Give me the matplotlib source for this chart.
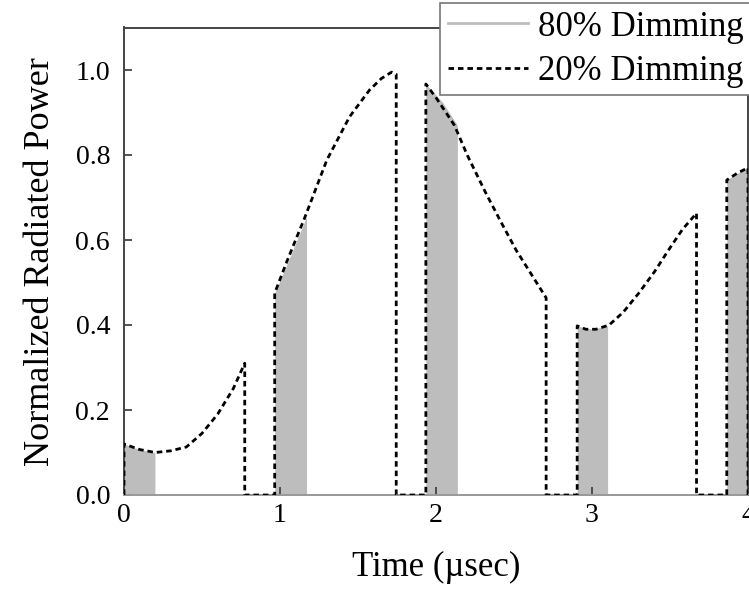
import matplotlib
matplotlib.use("Agg")
import matplotlib.pyplot as plt
from matplotlib.lines import Line2D

plt.rcParams['font.family'] = ['Liberation Serif', 'DejaVu Serif']

# 20% dimming: envelope of each on-period (time in usec, normalized power)
seg_t = [
    [0.0, 0.1, 0.2, 0.3, 0.4, 0.5, 0.6, 0.7, 0.774],
    [0.966, 1.05, 1.158, 1.30, 1.446, 1.574, 1.65, 1.715, 1.745],
    [1.935, 2.0, 2.118, 2.2, 2.32, 2.42, 2.514, 2.61, 2.706],
    [2.905, 2.96, 3.026, 3.11, 3.2, 3.30, 3.40, 3.49, 3.58, 3.67],
    [3.864, 3.93, 4.0],
]
seg_p = [
    [0.12, 0.107, 0.10, 0.104, 0.113, 0.145, 0.19, 0.25, 0.31],
    [0.475, 0.555, 0.652, 0.788, 0.89, 0.953, 0.98, 0.995, 0.99],
    [0.967, 0.935, 0.87, 0.80, 0.71, 0.64, 0.576, 0.52, 0.464],
    [0.398, 0.39, 0.39, 0.40, 0.43, 0.475, 0.525, 0.576, 0.625, 0.663],
    [0.741, 0.757, 0.77],
]

# 80% dimming: short on-periods (filled)
pulse_t = [
    [0.0, 0.1, 0.198],
    [0.966, 1.07, 1.17],
    [1.935, 2.04, 2.137],
    [2.905, 3.0, 3.10],
    [3.864, 3.93, 4.0],
]
pulse_p = [
    [0.12, 0.107, 0.10],
    [0.475, 0.565, 0.655],
    [0.967, 0.925, 0.87],
    [0.398, 0.39, 0.398],
    [0.741, 0.757, 0.77],
]

fig = plt.figure(figsize=(7.49, 5.90), dpi=100)
ax = fig.add_axes([124 / 749, 95 / 590, 624 / 749, 467.5 / 590])

gray = '#bdbdbd'
for t, p in zip(pulse_t, pulse_p):
    ax.fill_between(t, 0, p, color=gray, linewidth=0, zorder=1)

# dashed waveform: rise, follow envelope, fall, sit at zero
xs, ys = [], []
for t, p in zip(seg_t, seg_p):
    xs += [t[0]] + t + [t[-1]]
    ys += [0.0] + p + [0.0]
ax.plot(xs, ys, color='black', linewidth=2.0, linestyle=(0, (2.0, 1.4)), zorder=3)

ax.set_xlim(0, 4)
ax.set_ylim(0, 1.1)
ax.set_xticks([0, 1, 2, 3, 4])
ax.set_yticks([0.0, 0.2, 0.4, 0.6, 0.8, 1.0])
ax.set_yticklabels(['0.0', '0.2', '0.4', '0.6', '0.8', '1.0'])
ax.tick_params(direction='in', length=6, width=1.3, labelsize=20, color='#444444')
ax.tick_params(axis='x', pad=6)
ax.tick_params(axis='y', pad=10)
for s in ax.spines.values():
    s.set_color('#444444')
    s.set_linewidth(1.4)
ax.spines['bottom'].set_color('#999999')

ax.set_xlabel('Time (\u00b5sec)', fontsize=25, labelpad=16)
ax.set_ylabel('Normalized Radiated Power', fontsize=26, labelpad=13)

handles = [
    Line2D([], [], color=gray, linewidth=2.0),
    Line2D([], [], color='black', linewidth=2.0, linestyle=(0, (2.0, 1.4))),
]
leg = fig.legend(handles, ['80% Dimming', '20% Dimming'], loc='upper left',
                 bbox_to_anchor=(440 / 749, 1 - 3 / 590), fontsize=25,
                 frameon=True, fancybox=False, framealpha=1, edgecolor='#777777',
                 handlelength=2.3, handletextpad=0.3, labelspacing=0.32,
                 borderpad=0.22, borderaxespad=0)
leg.get_frame().set_linewidth(1.2)

fig.savefig('out.png', dpi=100)
